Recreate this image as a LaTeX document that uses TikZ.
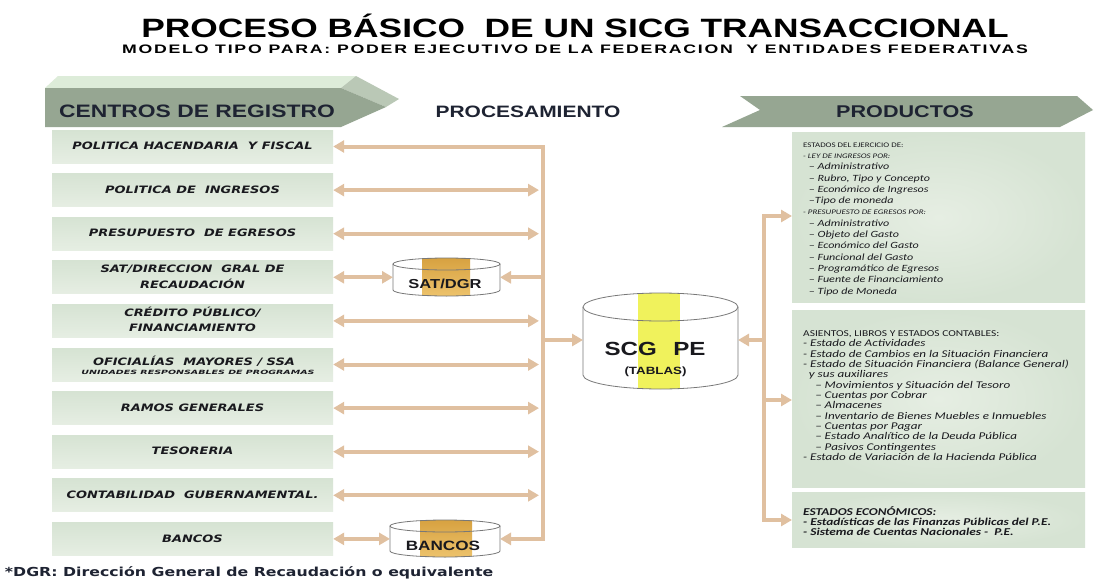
\documentclass[tikz,border=0pt]{standalone}
\usepackage{fontspec}
\usepackage{graphicx}
\setmainfont{Liberation Sans}
\newfontfamily\dvs{DejaVu Sans}
\newfontfamily\carl{Carlito}
\usetikzlibrary{arrows.meta}

\definecolor{boxfill}{RGB}{214,227,211}
\definecolor{boxlight}{RGB}{230,238,227}
\definecolor{bannerfront}{RGB}{150,166,146}
\definecolor{bannertop}{RGB}{221,236,217}
\definecolor{bannerside}{RGB}{186,200,182}
\definecolor{bannerlight}{RGB}{232,238,230}
\definecolor{bannermid}{RGB}{196,208,193}
\definecolor{flowc}{RGB}{224,192,160}
\definecolor{cylline}{RGB}{120,120,120}
\definecolor{goldtop}{RGB}{214,160,62}
\definecolor{goldbot}{RGB}{238,196,110}
\definecolor{yelband}{RGB}{240,242,92}
\definecolor{txt}{RGB}{25,25,30}
\definecolor{hdrtxt}{RGB}{30,35,50}

\pgfdeclarehorizontalshading{rbshade}{100bp}{color(0bp)=(bannerlight); color(10bp)=(bannermid); color(18bp)=(bannerfront); color(100bp)=(bannerfront)}

\newcommand\hsx[1]{\scalebox{1.27}[1]{#1}}
\newcommand\lbl[1]{\hsx{\dvs\bfseries\itshape\fontsize{10.2}{15.5}\selectfont\begin{tabular}{@{}c@{}}#1\end{tabular}}}
\newcommand\ci{\fontsize{7}{8}\selectfont}
\newcommand\sub{\hspace*{4.5pt}}
\newcommand\ssub{\hspace*{9.5pt}}

% cylinder: xl, xr, ytop-center, ybot-center, ry, bandL, bandR, band style
\newcommand\mycyl[8]{%
  \pgfmathsetmacro\cylrx{(#2-#1)/2}%
  \pgfmathsetmacro\cylcx{(#2+#1)/2}%
  \fill[white] (#1,#3) -- (#1,#4) arc[start angle=180,end angle=0,x radius=\cylrx,y radius=#5]
     -- (#2,#3) arc[start angle=0,end angle=-180,x radius=\cylrx,y radius=#5] -- cycle;
  \begin{scope}
    \clip (#1,#3) -- (#1,#4) arc[start angle=180,end angle=0,x radius=\cylrx,y radius=#5]
     -- (#2,#3) arc[start angle=0,end angle=-180,x radius=\cylrx,y radius=#5] -- cycle;
    \fill[#8] (#6,#3-#5-2) rectangle (#7,#4+#5+2);
  \end{scope}
  \draw[cylline,line width=0.8pt] (#1,#3) -- (#1,#4) arc[start angle=180,end angle=0,x radius=\cylrx,y radius=#5] -- (#2,#3);
  \draw[cylline,line width=0.8pt] (\cylcx,#3) ellipse[x radius=\cylrx,y radius=#5];
}

\tikzset{
  lbox/.style={top color=boxfill,bottom color=boxlight,minimum width=281,minimum height=33,inner sep=0,text=txt},
  pbox/.style={inner color=boxlight,outer color=boxfill,minimum width=293,inner sep=0,anchor=north west},
  anc/.style={inner sep=0,outer sep=0},
  flow/.style={draw=flowc,line width=4pt,line join=miter},
  both/.style={flow,{Triangle[length=11pt,width=12pt]}-{Triangle[length=11pt,width=12pt]}},
  tor/.style={flow,-{Triangle[length=11pt,width=12pt]}},
  hdr/.style={anchor=base,inner sep=0,text=hdrtxt},
  ptxt/.style={anchor=north west,inner sep=0,text=txt},
}

\begin{document}
\begin{tikzpicture}[x=1pt,y=-1pt]
\useasboundingbox[fill=white] (0,0) rectangle (1096,581);

% ---------- titles ----------
\node[anchor=base,inner sep=0] (title) at (575,37)
  {\scalebox{1.333}[1]{\fontsize{26.5}{30}\selectfont\bfseries PROCESO BÁSICO\ \ DE UN SICG TRANSACCIONAL}};
\node[anchor=base,inner sep=0] (subtitle) at (575,53)
  {\resizebox{906pt}{8.6pt}{\bfseries\addfontfeature{LetterSpace=10}MODELO TIPO PARA: PODER EJECUTIVO DE LA FEDERACION\ \ Y ENTIDADES FEDERATIVAS}};

% ---------- banners ----------
\fill[bannertop] (45,88) -- (58,76) -- (356,76) -- (341,88) -- cycle;
\fill[bannerside] (341,88) -- (356,76) -- (399,99) -- (386,107) -- cycle;
\fill[bannerfront] (45,88) -- (341,88) -- (386,107) -- (341,127) -- (45,127) -- cycle;

\shade[shading=rbshade] (740,96) -- (1077,96) -- (1093,110) -- (1060,127) -- (722,127) -- (760,110) -- cycle;

\node[hdr] (hL) at (197,117) {\hsx{\fontsize{18}{20}\selectfont\bfseries CENTROS DE REGISTRO}};
\node[hdr] (hM) at (528,117) {\hsx{\fontsize{16.5}{19}\selectfont\bfseries PROCESAMIENTO}};
\node[hdr] (hR) at (905,117) {\hsx{\fontsize{17}{19}\selectfont\bfseries PRODUCTOS}};

% ---------- left boxes ----------
\node[lbox] (b1) at (192.5,146.5) {\lbl{POLITICA HACENDARIA\ \ Y FISCAL}};
\node[lbox] (b2) at (192.5,190.1) {\lbl{POLITICA DE\ \ INGRESOS}};
\node[lbox] (b3) at (192.5,233.7) {\lbl{PRESUPUESTO\ \ DE EGRESOS}};
\node[lbox] (b4) at (192.5,277.3) {\lbl{SAT/DIRECCION\ \ GRAL DE\\RECAUDACIÓN}};
\node[lbox] (b5) at (192.5,320.9) {\lbl{CRÉDITO PÚBLICO/\\FINANCIAMIENTO}};
\node[lbox] (b6) at (192.5,364.5) {};
\node[anc,anchor=base,text=txt] (b6a) at (194,365.5)
  {\hsx{\dvs\bfseries\itshape\fontsize{10.2}{12}\selectfont OFICIALÍAS\ \ MAYORES / SSA}};
\node[anc,anchor=base,text=txt] (b6b) at (198,374.5)
  {\resizebox{233pt}{4.3pt}{\dvs\bfseries\itshape UNIDADES RESPONSABLES DE PROGRAMAS}};
\node[lbox] (b7) at (192.5,408.1) {\lbl{RAMOS GENERALES}};
\node[lbox] (b8) at (192.5,451.7) {\raisebox{-7pt}{\lbl{TESORERIA}}};
\node[lbox] (b9) at (192.5,495.3) {\lbl{CONTABILIDAD\ \ GUBERNAMENTAL.}};
\node[lbox] (b10) at (192.5,538.9) {\raisebox{-2pt}{\lbl{BANCOS}}};

% ---------- cylinders ----------
\mycyl{393}{500}{264}{290}{6}{422}{470}{top color=goldtop,bottom color=goldbot}
\node[anc,minimum width=107,minimum height=37] (sat) at (446.5,277.3) {};
\node[anc,anchor=base,text=txt] (satt) at (445,288.5) {\hsx{\fontsize{13}{15}\selectfont\bfseries SAT/DGR}};

\mycyl{390}{500}{526}{551}{6}{420}{472}{top color=goldtop,bottom color=goldbot}
\node[anc,minimum width=110,minimum height=37] (bcyl) at (445,538.9) {};
\node[anc,anchor=base,text=txt] (bcylt) at (443,550) {\hsx{\fontsize{13.5}{15}\selectfont\bfseries BANCOS}};

\mycyl{583}{738}{307}{375}{14}{638}{680}{yelband}
\node[anc,minimum width=155,minimum height=95] (scg) at (660.5,340) {};
\node[anc,anchor=base,text=txt] (scgt) at (655,355) {\hsx{\fontsize{19}{21}\selectfont\bfseries SCG\hspace{13pt}PE}};
\node[anc,anchor=base,text=txt] (scgs) at (655.5,374) {\hsx{\fontsize{10.5}{12}\selectfont\bfseries (TABLAS)}};

% ---------- product boxes ----------
\node[pbox,minimum height=170] (p1) at (792,132) {};
\node[pbox,minimum height=177] (p2) at (792,310) {};
\node[pbox,minimum height=55] (p3) at (792,492) {};

\node[ptxt] (p1t) at (803,139) {\hsx{\carl\fontsize{9.5}{11.3}\selectfont\begin{tabular}{@{}l@{}}
{\ci ESTADOS DEL EJERCICIO DE:}\\
{\ci\itshape - LEY DE INGRESOS POR:}\\
\itshape\sub – Administrativo\\
\itshape\sub – Rubro, Tipo y Concepto\\
\itshape\sub – Económico de Ingresos\\
\itshape\sub –Tipo de moneda\\
{\ci\itshape - PRESUPUESTO DE EGRESOS POR:}\\
\itshape\sub – Administrativo\\
\itshape\sub – Objeto del Gasto\\
\itshape\sub – Económico del Gasto\\
\itshape\sub – Funcional del Gasto\\
\itshape\sub – Programático de Egresos\\
\itshape\sub – Fuente de Financiamiento\\
\itshape\sub – Tipo de Moneda
\end{tabular}}};

\node[ptxt] (p2t) at (803,329) {\hsx{\carl\fontsize{10.3}{10.3}\selectfont\begin{tabular}{@{}l@{}}
{\fontsize{9}{9}\selectfont ASIENTOS, LIBROS Y ESTADOS CONTABLES:}\\
\itshape - Estado de Actividades\\
\itshape - Estado de Cambios en la Situación Financiera\\
\itshape - Estado de Situación Financiera (Balance General)\\
\itshape\sub y sus auxiliares\\
\itshape\ssub – Movimientos y Situación del Tesoro\\
\itshape\ssub – Cuentas por Cobrar\\
\itshape\ssub – Almacenes\\
\itshape\ssub – Inventario de Bienes Muebles e Inmuebles\\
\itshape\ssub – Cuentas por Pagar\\
\itshape\ssub – Estado Analítico de la Deuda Pública\\
\itshape\ssub – Pasivos Contingentes\\
\itshape - Estado de Variación de la Hacienda Pública
\end{tabular}}};

\node[ptxt] (p3t) at (803,506) {\hsx{\carl\bfseries\itshape\fontsize{10.5}{10}\selectfont\begin{tabular}{@{}l@{}}
ESTADOS ECONÓMICOS:\\
- Estadísticas de las Finanzas Públicas del P.E.\\
- Sistema de Cuentas Nacionales -\ \ P.E.
\end{tabular}}};

% ---------- connectors ----------
\coordinate (busT) at (543,146.5);
\coordinate (busB) at (543,538.9);
\coordinate (busL) at (539,0);
\draw[both] (b1.east) -- (busT) -- (busB) -- (bcyl.east);
\draw[both] (b2.east) -- (b2.east -| busL);
\draw[both] (b3.east) -- (b3.east -| busL);
\draw[both] (b4.east) -- (sat.west);
\draw[tor] (sat.east -| busT) -- (sat.east);
\draw[both] (b5.east) -- (b5.east -| busL);
\draw[both] (b6.east) -- (b6.east -| busL);
\draw[both] (b7.east) -- (b7.east -| busL);
\draw[both] (b8.east) -- (b8.east -| busL);
\draw[both] (b9.east) -- (b9.east -| busL);
\draw[both] (b10.east) -- (bcyl.west);
\draw[tor] (scg.west -| busT) -- (scg.west);

\coordinate (rbT) at (764,216);
\coordinate (rbM) at (764,400);
\coordinate (rbB) at (764,520);
\draw[both] (rbT -| p1.west) -- (rbT) -- (rbB) -- (rbB -| p3.west);
\draw[tor] (rbM) -- (rbM -| p2.west);
\draw[tor] (scg.east -| rbT) -- (scg.east);

% ---------- footnote ----------
\node[anc,anchor=base west,text=hdrtxt] (fn) at (5,576)
  {\hsx{\dvs\bfseries\fontsize{12.4}{14}\selectfont *DGR: Dirección General de Recaudación o equivalente}};
\end{tikzpicture}
\end{document}
